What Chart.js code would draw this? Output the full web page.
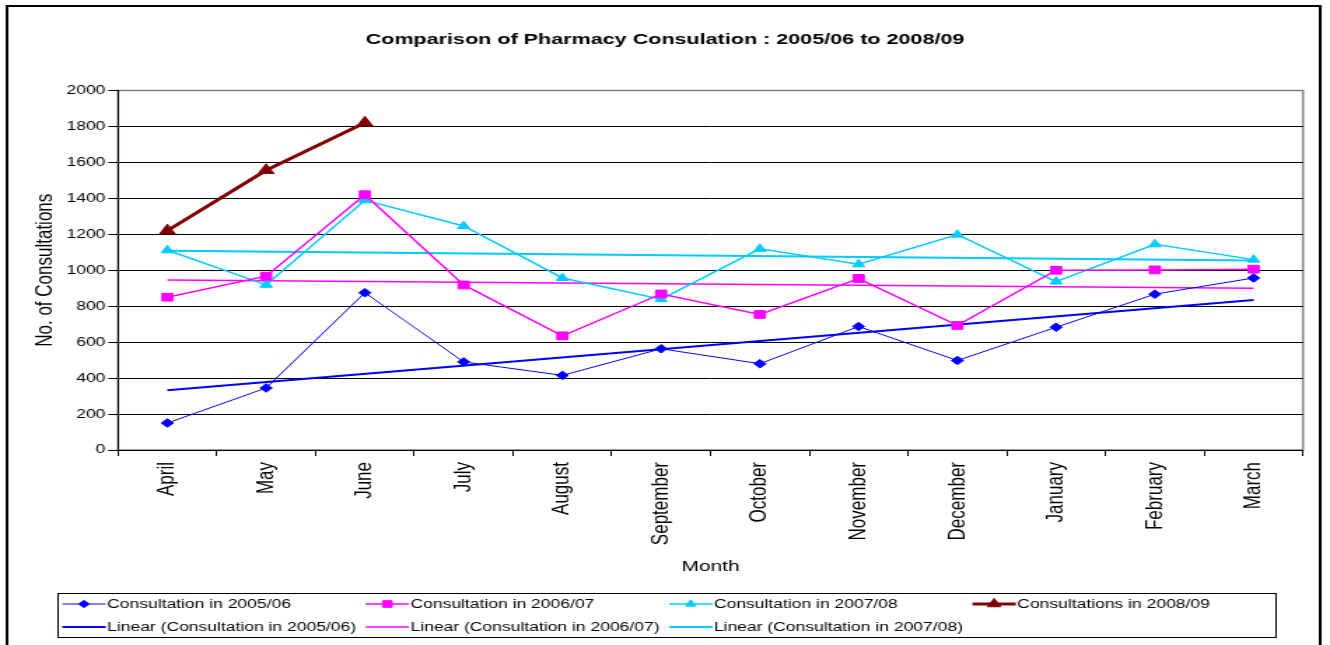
<!DOCTYPE html>
<html>
<head>
<meta charset="utf-8">
<title>Pharmacy Consultations</title>
<script src="https://cdn.jsdelivr.net/npm/chart.js@4.4.1/dist/chart.umd.min.js"></script>
<style>
  html, body { margin: 0; padding: 0; background: #fff; overflow: hidden; }
  /* the sheet is laid out at 950px and stretched out to 1330px wide */
  #wrap { width: 950px; height: 645px; transform: scaleX(1.4); transform-origin: 0 0; }
</style>
</head>
<body>
<div id="wrap"><canvas id="chart" width="950" height="645"></canvas></div>
<script>
const months = ['April', 'May', 'June', 'July', 'August', 'September',
  'October', 'November', 'December', 'January', 'February', 'March']

const cons0506 = [150, 345, 875, 490, 415, 563, 480, 687, 498, 683, 867, 957]
const cons0607 = [850, 967, 1420, 918, 635, 868, 754, 954, 693, 1000, 1002, 1006]
const cons0708 = [1111, 919, 1389, 1246, 957, 839, 1119, 1033, 1198, 937, 1144, 1059]
const cons0809 = [1220, 1556, 1820]

// linear trend values at April and March
const trend0506 = [333, 835]
const trend0607 = [946, 900]
const trend0708 = [1108, 1054]

const yMin = 0
const yMax = 2000
const yStep = 200

const FONT = '"Liberation Sans", Arial, sans-serif'

// only the two end points, the line is spanned between them
function trendData(ends) {
  return months.map((m, i) => {
    if (i === 0) return ends[0]
    if (i === months.length - 1) return ends[1]
    return null
  })
}

function series(label, data, color, style, radius, width) {
  return {
    label: label,
    data: data,
    borderColor: color,
    backgroundColor: color,
    borderWidth: width,
    pointStyle: style,
    pointRadius: radius,
    pointBorderWidth: 1,
    pointHoverRadius: radius,
    tension: 0
  }
}

function trend(label, ends, color, width) {
  return {
    label: label,
    data: trendData(ends),
    borderColor: color,
    backgroundColor: color,
    borderWidth: width,
    pointRadius: 0,
    pointHoverRadius: 0,
    spanGaps: true
  }
}

// outer frame of the sheet and grey outline of the plot area
const frame = {
  id: 'frame',
  beforeDraw(chart) {
    const { ctx, chartArea } = chart
    ctx.save()
    ctx.strokeStyle = '#000'
    ctx.lineWidth = 2
    ctx.beginPath()
    ctx.moveTo(5, 645)
    ctx.lineTo(5, 6)
    ctx.lineTo(943, 6)
    ctx.lineTo(943, 645)
    ctx.stroke()
    ctx.strokeStyle = '#808080'
    ctx.lineWidth = 1.5
    ctx.strokeRect(chartArea.left, chartArea.top, chartArea.right - chartArea.left, chartArea.bottom - chartArea.top)
    ctx.restore()
  }
}

// boxed legend, four columns, trend lines on the second row
const legendBox = {
  id: 'legendBox',
  afterDraw(chart) {
    const ctx = chart.ctx
    const left = 41, top = 593, right = 911, bottom = 637
    const colW = 216.7
    const rows = [604, 627]
    ctx.save()
    ctx.strokeStyle = '#000'
    ctx.lineWidth = 1
    ctx.strokeRect(left + 0.5, top + 0.5, right - left, bottom - top)
    ctx.font = '12.5px ' + FONT
    ctx.textBaseline = 'middle'
    chart.data.datasets.forEach((ds, i) => {
      const row = i < 4 ? 0 : 1
      const col = i < 4 ? i : i - 4
      const x = left + 3.5 + col * colW
      const y = rows[row]
      ctx.strokeStyle = ds.borderColor
      ctx.fillStyle = ds.backgroundColor
      ctx.lineWidth = ds.borderWidth
      ctx.beginPath()
      ctx.moveTo(x, y)
      ctx.lineTo(x + 31, y)
      ctx.stroke()
      if (ds.pointRadius) {
        ctx.lineWidth = 1
        Chart.helpers.drawPoint(ctx, {
          pointStyle: ds.pointStyle,
          radius: ds.pointRadius * 0.85,
          rotation: 0,
          borderWidth: 1
        }, x + 15.5, y)
      }
      ctx.fillStyle = '#000'
      ctx.fillText(ds.label, x + 32, y + 1)
    })
    ctx.restore()
  }
}

new Chart(document.getElementById('chart'), {
  type: 'line',
  data: {
    labels: months,
    datasets: [
      series('Consultation in 2005/06', cons0506, '#0000FF', 'rectRot', 4.3, 1),
      series('Consultation in 2006/07', cons0607, '#FF00FF', 'rect', 5.5, 1.5),
      series('Consultation in 2007/08', cons0708, '#00CCFF', 'triangle', 5, 1.5),
      series('Consultations in 2008/09', cons0809, '#800000', 'triangle', 6.5, 3),
      trend('Linear (Consultation in 2005/06)', trend0506, '#0000FF', 2),
      trend('Linear (Consultation in 2006/07)', trend0607, '#FF00FF', 1.5),
      trend('Linear (Consultation in 2007/08)', trend0708, '#00CCFF', 2)
    ]
  },
  options: {
    responsive: false,
    animation: false,
    layout: {
      padding: { top: 0, left: 0, right: 0, bottom: 60 }
    },
    plugins: {
      legend: { display: false },
      tooltip: { enabled: false },
      title: {
        display: true,
        text: 'Comparison of Pharmacy Consulation : 2005/06 to 2008/09',
        color: '#000',
        font: { family: FONT, size: 15.4, weight: 'bold' },
        padding: { top: 31, bottom: 41 }
      }
    },
    scales: {
      x: {
        offset: true,
        grid: {
          offset: true,
          drawOnChartArea: false,
          color: '#000',
          tickColor: '#000',
          tickLength: 6
        },
        border: { color: '#000', width: 1 },
        ticks: {
          autoSkip: false,
          minRotation: 90,
          maxRotation: 90,
          padding: 6,
          color: '#000',
          font: { family: FONT, size: 17 }
        },
        title: {
          display: true,
          text: 'Month',
          color: '#000',
          font: { family: FONT, size: 15 },
          padding: { top: 0, bottom: 9 }
        },
        afterFit(scale) { scale.height = 135 }
      },
      y: {
        min: yMin,
        max: yMax,
        ticks: {
          stepSize: yStep,
          padding: 2,
          color: '#000',
          font: { family: FONT, size: 12.5 },
          callback: (v) => String(v)
        },
        grid: {
          color: (c) => (c.tick && c.tick.value === yMax ? '#808080' : '#000'),
          tickColor: '#000',
          tickLength: 7
        },
        border: { color: '#000', width: 1 },
        title: {
          display: true,
          text: 'No. of Consultations',
          color: '#000',
          font: { family: FONT, size: 17 },
          padding: { top: 22, bottom: 0 }
        },
        afterFit(scale) { scale.width = 84.3 }
      },
      // empty right-hand axis, keeps the gap beside the plot area
      yRight: {
        position: 'right',
        display: true,
        grid: { display: false },
        border: { display: false },
        ticks: { display: false },
        afterFit(scale) { scale.width = 19.3 }
      }
    }
  },
  plugins: [frame, legendBox]
})
</script>
</body>
</html>
